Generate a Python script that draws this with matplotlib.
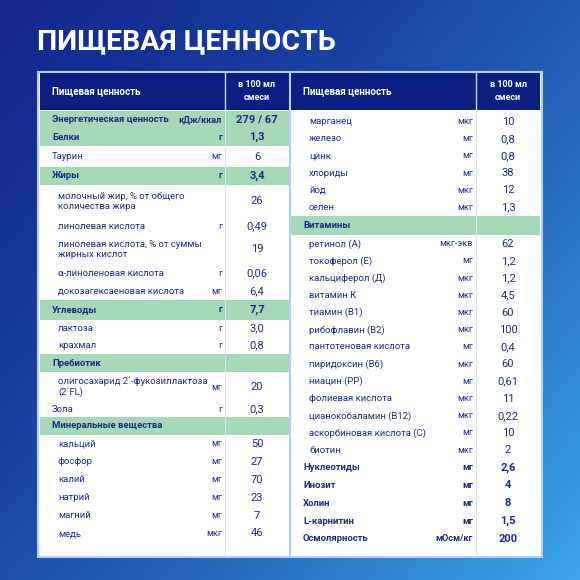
import numpy as np
import matplotlib.pyplot as plt
from matplotlib.patches import Rectangle

plt.rcParams['font.family'] = ['Roboto', 'DejaVu Sans']

# ---- data ----
left_names = ["Энергетическая ценность", "Белки", "Таурин", "Жиры",
              "молочный жир, % от общего\nколичества жира", "линолевая кислота",
              "линолевая кислота, % от суммы\nжирных кислот", "α-линоленовая кислота",
              "докозагексаеновая кислота", "Углеводы", "лактоза", "крахмал",
              "Пребиотик", "олигосахарид 2´-фукозиллактоза\n(2´FL)", "Зола",
              "Минеральные вещества", "кальций", "фосфор", "калий", "натрий",
              "магний", "медь"]
left_units = ["кДж/ккал", "г", "мг", "г", "", "г", "", "г", "мг", "г", "г", "г",
              "", "мг", "г", "", "мг", "мг", "мг", "мг", "мг", "мкг"]
left_values = ["279 / 67", "1,3", "6", "3,4", "26", "0,49", "19", "0,06", "6,4",
               "7,7", "3,0", "0,8", "", "20", "0,3", "", "50", "27", "70", "23", "7", "46"]
# row kind: g = green header, s = sub item, n = normal
left_kind = ["g", "g", "n", "g", "s", "s", "s", "s", "s", "g", "s", "s",
             "g", "s", "n", "g", "s", "s", "s", "s", "s", "s"]

right_names = ["марганец", "железо", "цинк", "хлориды", "йод", "селен", "Витамины",
               "ретинол (А)", "токоферол (Е)", "кальциферол (Д)", "витамин К",
               "тиамин (В1)", "рибофлавин (В2)", "пантотеновая кислота",
               "пиридоксин (В6)", "ниацин (РР)", "фолиевая кислота",
               "цианокобаламин (В12)", "аскорбиновая кислота (С)", "биотин",
               "Нуклеотиды", "Инозит", "Холин", "L-карнитин", "Осмолярность"]
right_units = ["мкг", "мг", "мг", "мг", "мкг", "мкг", "", "мкг-экв", "мг", "мкг",
               "мкг", "мкг", "мкг", "мг", "мкг", "мг", "мкг", "мкг", "мг", "мкг",
               "мг", "мг", "мг", "мг", "мОсм/кг"]
right_values = ["10", "0,8", "0,8", "38", "12", "1,3", "", "62", "1,2", "1,2", "4,5",
                "60", "100", "0,4", "60", "0,61", "11", "0,22", "10", "2",
                "2,6", "4", "8", "1,5", "200"]
right_kind = ["s"] * 6 + ["g"] + ["s"] * 13 + ["b"] * 5

# ---- layout (pixel space) ----
left_h = [17, 18, 21, 18, 33, 17, 29, 18, 18, 20, 17, 17, 18, 30, 15, 18,
          18, 18, 18, 18, 18, 17]
right_h = [17.2] * 6 + [19] + [17.2] * 13 + [17.8] * 5

navy = "#0b1f82"
green = "#a5d9b8"
ink = "#1c2b85"

fig = plt.figure(figsize=(5.8, 5.8), dpi=100)
ax = fig.add_axes([0, 0, 1, 1])
ax.set_xlim(0, 580)
ax.set_ylim(580, 0)
ax.axis("off")

# gradient background
gx, gy = np.meshgrid(np.linspace(0, 1, 200), np.linspace(0, 1, 200))
t = np.clip(0.55 * gx + 0.45 * gy, 0, 1) ** 1.6
c0 = np.array([0x12, 0x2a, 0x90]) / 255
c1 = np.array([0x3a, 0xa8, 0xea]) / 255
img = c0[None, None, :] * (1 - t[..., None]) + c1[None, None, :] * t[..., None]
ax.imshow(img, extent=[0, 580, 580, 0], aspect="auto", zorder=0)

ax.text(37, 42, "ПИЩЕВАЯ ЦЕННОСТЬ", color="white", fontsize=20.5, fontweight="bold",
        va="center", ha="left", zorder=5)

ax.add_patch(Rectangle((38, 72), 504, 485, facecolor="white", edgecolor="#b9cdf0",
                       lw=1.5, zorder=1))


def draw_table(x0, x1, xline, names, units, values, kinds, heights, y_start):
    # header
    ax.add_patch(Rectangle((x0, 73), x1 - x0, 37, facecolor=navy, lw=0, zorder=2))
    ax.text(x0 + 12, 91, "Пищевая ценность", color="white", fontsize=7,
            fontweight="bold", va="center", zorder=5)
    ax.text((xline + x1) / 2, 91, "в 100 мл\nсмеси", color="white", fontsize=6.5,
            fontweight="bold", va="center", ha="center", linespacing=1.5, zorder=5)
    ax.plot([xline, xline], [73, 110], color="#c8d4ee", lw=1, zorder=3)
    y = y_start
    for name, unit, val, kind, h in zip(names, units, values, kinds, heights):
        yc = y + h / 2
        if kind == "g":
            ax.add_patch(Rectangle((x0, y), x1 - x0, h, facecolor=green, lw=0, zorder=2))
        bold = kind in ("g", "b")
        nx = x0 + 12 if kind != "s" else x0 + 18
        ax.text(nx, yc, name, color=ink, fontsize=6.8, va="center", ha="left",
                fontweight="bold" if bold else "normal", linespacing=1.2, zorder=5)
        ax.text(xline - 3, yc, unit, color=ink, fontsize=6.6, va="center", ha="right",
                fontweight="bold" if bold else "normal", zorder=5)
        ax.text((xline + x1) / 2, yc, val, color=ink, fontsize=8, va="center",
                ha="center", fontweight="bold" if bold else "normal", zorder=5)
        y += h
    ax.plot([xline, xline], [110, 556], color="#dbe3f3", lw=0.8, zorder=3)


draw_table(40, 289, 225, left_names, left_units, left_values, left_kind, left_h, 111)
draw_table(291, 540, 476, right_names, right_units, right_values, right_kind, right_h, 113)
ax.plot([290, 290], [73, 556], color="#b9cdf0", lw=1.5, zorder=4)

fig.savefig("out.png", dpi=100)
